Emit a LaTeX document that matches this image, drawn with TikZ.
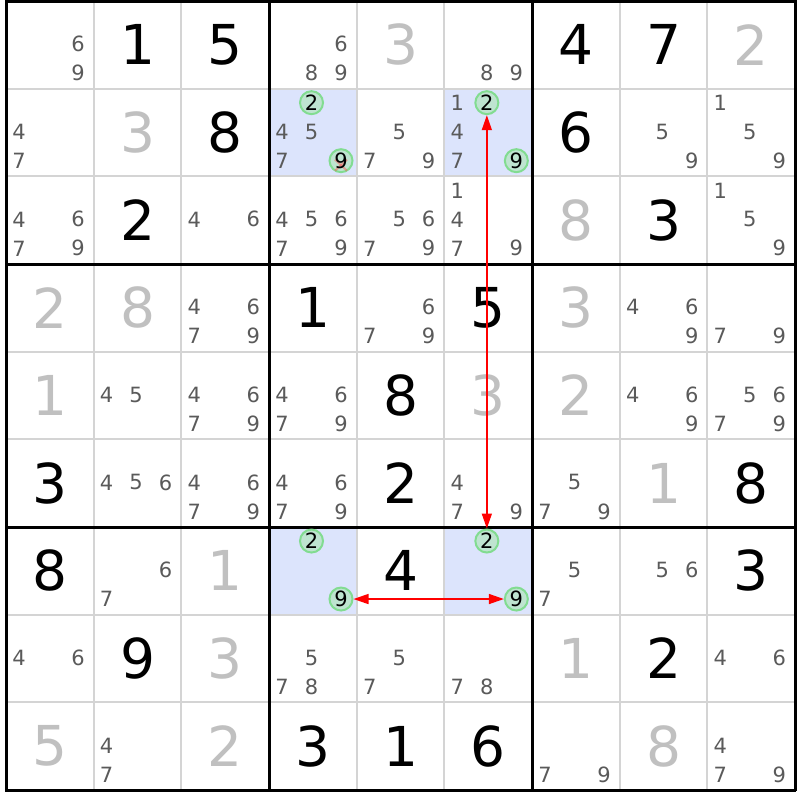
\documentclass[tikz,border=0pt]{standalone}
\usepackage{fontspec}
\setmainfont{DejaVu Sans}
\usetikzlibrary{arrows.meta}
\definecolor{candgray}{RGB}{90,90,90}
\definecolor{solvgray}{RGB}{192,192,192}
\definecolor{hlblue}{RGB}{220,228,252}
\definecolor{gridgray}{RGB}{212,212,212}
\definecolor{circfill}{RGB}{190,228,208}
\definecolor{circline}{RGB}{130,220,145}
\tikzset{
 givenst/.style={font=\fontsize{27.5}{30}\selectfont, text=black, inner sep=0pt},
 solvedst/.style={givenst, text=solvgray},
 candst/.style={font=\fontsize{10.5}{12}\selectfont, text=candgray, inner sep=0pt},
 circst/.style={candst, text=black, circle, draw=circline, fill=circfill, line width=1pt, minimum size=11.5pt},
 thingrid/.style={draw=gridgray, line width=1pt},
 thickgrid/.style={draw=black, line width=1.5pt},
 link/.style={red, line width=0.75pt, {Triangle[length=7.5pt,width=5pt]}-{Triangle[length=7.5pt,width=5pt]}},
 elim/.style={red!70!white, opacity=0.45, line width=1pt},
}
\newcommand\Gv[3]{\node[givenst] (g-#1-#2) at ({87.67*#2-37.83},{87.67*#1-42.83}) {#3};}
\newcommand\Sv[3]{\node[solvedst] (g-#1-#2) at ({87.67*#2-37.83},{87.67*#1-42.83}) {#3};}
\newcommand\Cd[3]{\foreach \d in {#3}{\pgfmathtruncatemacro\mm{mod(\d-1,3)}\pgfmathtruncatemacro\nn{(\d-1)/3}\node[candst] (c-#1-#2-\d) at ({87.67*#2-68.67+29.5*\mm},{87.67*#1-72.67+29*\nn}) {\d};}}
\newcommand\Cc[3]{\pgfmathtruncatemacro\mm{mod(#3-1,3)}\pgfmathtruncatemacro\nn{(#3-1)/3}\node[circst] (cc-#1-#2-#3) at ({87.67*#2-68.67+29.5*\mm},{87.67*#1-72.67+29*\nn}) {#3};}
\newcommand\Hl[2]{\fill[hlblue] ({6+87.67*(#2-1)},{1+87.67*(#1-1)}) rectangle ({6+87.67*#2},{1+87.67*#1});}
\begin{document}
\begin{tikzpicture}[x=0.5pt,y=-0.5pt]
\useasboundingbox (0,0) rectangle (800,800);
\fill[white] (0,0) rectangle (800,800);
% highlighted cells
\Hl{2}{4}\Hl{2}{6}\Hl{7}{4}\Hl{7}{6}
% grid
\foreach \i in {1,2,4,5,7,8}{
  \draw[thingrid] ({6+87.67*\i},1) -- ({6+87.67*\i},790);
  \draw[thingrid] (6,{1+87.67*\i}) -- (795,{1+87.67*\i});
}
\foreach \i in {0,3,6,9}{
  \draw[thickgrid] ({6+87.67*\i},0.25) -- ({6+87.67*\i},790.75);
  \draw[thickgrid] (5.25,{1+87.67*\i}) -- (795.75,{1+87.67*\i});
}
% row 1
\Cd{1}{1}{6,9} \Gv{1}{2}{1} \Gv{1}{3}{5} \Cd{1}{4}{6,8,9} \Sv{1}{5}{3} \Cd{1}{6}{8,9} \Gv{1}{7}{4} \Gv{1}{8}{7} \Sv{1}{9}{2}
% row 2
\Cd{2}{1}{4,7} \Sv{2}{2}{3} \Gv{2}{3}{8} \Cd{2}{4}{4,5,7} \Cc{2}{4}{2}
\node[circst] (cc-2-4-9) at ({87.67*4-68.67+59},{87.67*2-72.67+58}) {\phantom{9}};
\draw[elim] ([shift={(-6,-1)}]cc-2-4-9.center) -- ([shift={(6,10)}]cc-2-4-9.center);
\draw[elim] ([shift={(-6,10)}]cc-2-4-9.center) -- ([shift={(6,-1)}]cc-2-4-9.center);
\node[candst,text=black] (t-2-4-9) at (cc-2-4-9) {9};
\Cd{2}{5}{5,7,9} \Cd{2}{6}{1,4,7} \Cc{2}{6}{2} \Cc{2}{6}{9} \Gv{2}{7}{6} \Cd{2}{8}{5,9} \Cd{2}{9}{1,5,9}
% row 3
\Cd{3}{1}{4,6,7,9} \Gv{3}{2}{2} \Cd{3}{3}{4,6} \Cd{3}{4}{4,5,6,7,9} \Cd{3}{5}{5,6,7,9} \Cd{3}{6}{1,4,7,9} \Sv{3}{7}{8} \Gv{3}{8}{3} \Cd{3}{9}{1,5,9}
% row 4
\Sv{4}{1}{2} \Sv{4}{2}{8} \Cd{4}{3}{4,6,7,9} \Gv{4}{4}{1} \Cd{4}{5}{6,7,9} \Gv{4}{6}{5} \Sv{4}{7}{3} \Cd{4}{8}{4,6,9} \Cd{4}{9}{7,9}
% row 5
\Sv{5}{1}{1} \Cd{5}{2}{4,5} \Cd{5}{3}{4,6,7,9} \Cd{5}{4}{4,6,7,9} \Gv{5}{5}{8} \Sv{5}{6}{3} \Sv{5}{7}{2} \Cd{5}{8}{4,6,9} \Cd{5}{9}{5,6,7,9}
% row 6
\Gv{6}{1}{3} \Cd{6}{2}{4,5,6} \Cd{6}{3}{4,6,7,9} \Cd{6}{4}{4,6,7,9} \Gv{6}{5}{2} \Cd{6}{6}{4,7,9} \Cd{6}{7}{5,7,9} \Sv{6}{8}{1} \Gv{6}{9}{8}
% row 7
\Gv{7}{1}{8} \Cd{7}{2}{6,7} \Sv{7}{3}{1} \Cc{7}{4}{2} \Cc{7}{4}{9} \Gv{7}{5}{4} \Cc{7}{6}{2} \Cc{7}{6}{9} \Cd{7}{7}{5,7} \Cd{7}{8}{5,6} \Gv{7}{9}{3}
% row 8
\Cd{8}{1}{4,6} \Gv{8}{2}{9} \Sv{8}{3}{3} \Cd{8}{4}{5,7,8} \Cd{8}{5}{5,7} \Cd{8}{6}{7,8} \Sv{8}{7}{1} \Gv{8}{8}{2} \Cd{8}{9}{4,6}
% row 9
\Sv{9}{1}{5} \Cd{9}{2}{4,7} \Sv{9}{3}{2} \Gv{9}{4}{3} \Gv{9}{5}{1} \Gv{9}{6}{6} \Cd{9}{7}{7,9} \Sv{9}{8}{8} \Cd{9}{9}{4,7,9}
% links
\draw[link] (cc-2-6-2) -- (cc-7-6-2);
\draw[link] (cc-7-4-9) -- (cc-7-6-9);
\end{tikzpicture}
\end{document}
